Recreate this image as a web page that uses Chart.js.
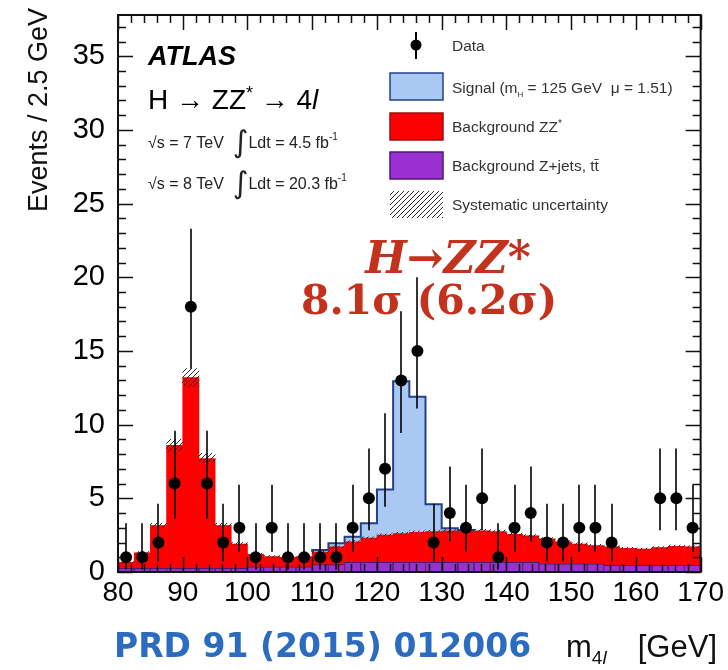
<!DOCTYPE html>
<html>
<head>
<meta charset="utf-8">
<script src="https://cdn.jsdelivr.net/npm/chart.js@4.4.1/dist/chart.umd.min.js"></script>
<style>
  html, body { margin: 0; padding: 0; background: #fff; }
</style>
</head>
<body>
<canvas id="massChart" width="728" height="670"></canvas>
<script>
// m4l bin centres [GeV], 2.5 GeV bins from 80 to 170
const massBins = [81.25, 83.75, 86.25, 88.75, 91.25, 93.75, 96.25, 98.75, 101.25, 103.75,
  106.25, 108.75, 111.25, 113.75, 116.25, 118.75, 121.25, 123.75, 126.25, 128.75,
  131.25, 133.75, 136.25, 138.75, 141.25, 143.75, 146.25, 148.75, 151.25, 153.75,
  156.25, 158.75, 161.25, 163.75, 166.25, 168.75];
const binWidth = 2.5;

// observed events (null = empty bin, not drawn)
const dataEvents = [1, 1, 2, 6, 18, 6, 2, 3, 1, 3, 1, 1, 1, 1, 3, 5, 7, 13, 15, 2,
  4, 3, 5, 1, 3, 4, 2, 2, 3, 3, 2, null, null, 5, 5, 3];
const errLow = [0.17, 0.17, 0.71, 3.62, 13.8, 3.62, 0.71, 1.37, 0.17, 1.37, 0.17, 0.17, 0.17, 0.17, 1.37, 2.84, 4.42, 9.43, 11.1, 0.71,
  2.09, 1.37, 2.84, 0.17, 1.37, 2.09, 0.71, 0.71, 1.37, 1.37, 0.71, null, null, 2.84, 2.84, 1.37];
const errHigh = [3.3, 3.3, 4.64, 9.58, 23.3, 9.58, 4.64, 5.92, 3.3, 5.92, 3.3, 3.3, 3.3, 3.3, 5.92, 8.38, 10.77, 17.7, 20.0, 4.64,
  7.16, 5.92, 8.38, 3.3, 5.92, 7.16, 4.64, 4.64, 5.92, 5.92, 4.64, null, null, 8.38, 8.38, 5.92];

// stacked expectations
const bkgZjets = [0.25, 0.25, 0.25, 0.25, 0.25, 0.25, 0.25, 0.25, 0.35, 0.35, 0.35, 0.35, 0.5, 0.5, 0.65, 0.65, 0.65, 0.65, 0.65, 0.65,
  0.65, 0.65, 0.65, 0.65, 0.65, 0.65, 0.55, 0.55, 0.55, 0.55, 0.45, 0.45, 0.45, 0.45, 0.45, 0.45];
const bkgZZ = [0.4, 1.05, 2.9, 8.35, 12.95, 7.45, 2.9, 1.65, 0.85, 0.7, 0.65, 0.7, 0.85, 1.2, 1.4, 1.65, 1.85, 1.95, 2.05, 2.1,
  2.15, 2.15, 2.15, 2.1, 1.9, 1.8, 1.7, 1.5, 1.35, 1.25, 1.25, 1.15, 1.1, 1.2, 1.3, 1.25];
const signal = [0, 0, 0, 0, 0, 0, 0, 0, 0, 0, 0, 0, 0.15, 0.25, 0.35, 1.0, 3.1, 10.35, 9.2, 1.85,
  0.17, 0.05, 0, 0, 0, 0, 0, 0, 0, 0, 0, 0, 0, 0, 0, 0];
const systErr = [0.05, 0.08, 0.15, 0.4, 0.6, 0.35, 0.15, 0.1, 0.07, 0.06, 0.06, 0.06, 0.07, 0.08, 0.08, 0.09, 0.09, 0.1, 0.1, 0.1,
  0.1, 0.1, 0.1, 0.1, 0.09, 0.09, 0.08, 0.08, 0.08, 0.07, 0.07, 0.07, 0.07, 0.07, 0.07, 0.07];

const xTicks = [80, 90, 100, 110, 120, 130, 140, 150, 160, 170];
const yTicks = [0, 5, 10, 15, 20, 25, 30, 35];

const FONT = '"Liberation Sans", Arial, sans-serif';
const colZjets = '#9a30d2', colZZ = '#ff0000', colSig = '#a9c9f3', colSigLine = '#22408a';

function hatchPattern(ctx) {
    const p = document.createElement('canvas');
    p.width = 5; p.height = 5;
    const g = p.getContext('2d');
    g.strokeStyle = '#2a2a2a';
    g.lineWidth = 1;
    g.beginPath();
    g.moveTo(0, 5); g.lineTo(5, 0);
    g.moveTo(-1, 1); g.lineTo(1, -1);
    g.moveTo(4, 6); g.lineTo(6, 4);
    g.stroke();
    return ctx.createPattern(p, 'repeat');
}

const canvas = document.getElementById('massChart');
const hatch = hatchPattern(canvas.getContext('2d'));

const bkgTop = massBins.map((m, i) => bkgZjets[i] + bkgZZ[i]);

// outline of the signal on top of the stack
const sigOutline = [];
massBins.forEach((m, i) => {
    if (signal[i] <= 0) return;
    const lo = m - binWidth / 2, hi = m + binWidth / 2;
    if (!sigOutline.length) sigOutline.push({x: lo, y: bkgTop[i]});
    sigOutline.push({x: lo, y: bkgTop[i] + signal[i]});
    sigOutline.push({x: hi, y: bkgTop[i] + signal[i]});
    if (!(signal[i + 1] > 0)) sigOutline.push({x: hi, y: bkgTop[i]});
});

const errorBars = {
    id: 'errorBars',
    beforeDatasetDraw(chart, args) {
        if (chart.data.datasets[args.index].label !== 'Data') return;
        const {ctx, scales: {x, y}} = chart;
        ctx.save();
        ctx.strokeStyle = 'rgba(0,0,0,0.8)';
        ctx.lineWidth = 2;
        massBins.forEach((m, i) => {
            if (dataEvents[i] === null) return;
            const px = Math.round(x.getPixelForValue(m));
            ctx.beginPath();
            ctx.moveTo(px, y.getPixelForValue(errLow[i]));
            ctx.lineTo(px, y.getPixelForValue(errHigh[i]));
            ctx.stroke();
        });
        ctx.restore();
    }
};

function textRuns(ctx, x, y, runs) {
    // runs: [text, font, dy]
    runs.forEach(([t, f, dy]) => {
        ctx.font = f;
        ctx.fillText(t, x, y + (dy || 0));
        x += ctx.measureText(t).width;
    });
    return x;
}

const decor = {
    id: 'decor',
    afterDraw(chart) {
        const {ctx, chartArea: a, scales: {x, y}} = chart;
        ctx.save();

        // axis ticks inside the frame
        ctx.strokeStyle = '#111';
        ctx.lineWidth = 1.5;
        ctx.beginPath();
        for (let v = 0; v <= 37; v++) {
            const py = Math.round(y.getPixelForValue(v)) + 0.5;
            const len = v % 5 === 0 ? 15 : 8;
            ctx.moveTo(a.left, py); ctx.lineTo(a.left + len, py);
            ctx.moveTo(a.right, py); ctx.lineTo(a.right - len, py);
        }
        for (let m = 80; m <= 170; m += 2) {
            const px = Math.round(x.getPixelForValue(m)) + 0.5;
            const len = m % 10 === 0 ? 15 : 8;
            ctx.moveTo(px, a.top); ctx.lineTo(px, a.top + len);
            ctx.moveTo(px, a.bottom); ctx.lineTo(px, a.bottom - len);
        }
        ctx.stroke();

        ctx.lineWidth = 2;
        ctx.strokeRect(a.left, a.top, a.right - a.left, a.bottom - a.top);

        // y axis title
        ctx.fillStyle = '#111';
        ctx.save();
        ctx.translate(47, 8);
        ctx.rotate(-Math.PI / 2);
        ctx.textAlign = 'right';
        ctx.textBaseline = 'alphabetic';
        ctx.font = '27px ' + FONT;
        ctx.fillText('Events / 2.5 GeV', 0, 0);
        ctx.restore();

        // x axis title and reference
        ctx.textAlign = 'left';
        ctx.textBaseline = 'alphabetic';
        ctx.fillStyle = '#2b6cc0';
        ctx.font = 'bold 33px "DejaVu Sans", sans-serif';
        ctx.fillText('PRD 91 (2015) 012006', 114, 657);
        ctx.fillStyle = '#111';
        textRuns(ctx, 566, 657, [
            ['m', '31px ' + FONT],
            ['4', '19px ' + FONT, 7],
            ['l', 'italic 19px ' + FONT, 7]
        ]);
        ctx.textAlign = 'right';
        ctx.font = '31px ' + FONT;
        ctx.fillText('[GeV]', 717, 657);
        ctx.textAlign = 'left';

        // ATLAS label block
        const lx = a.left + 30;
        ctx.fillStyle = '#000';
        ctx.font = 'italic bold 27px ' + FONT;
        ctx.fillText('ATLAS', lx, 65);
        textRuns(ctx, lx, 109, [
            ['H \u2192 ZZ', '28px ' + FONT],
            ['*', '18px ' + FONT, -10],
            [' \u2192 4', '28px ' + FONT],
            ['l', 'italic 28px ' + FONT]
        ]);
        ctx.fillStyle = '#222';
        [[148, '7 TeV', '4.5'], [189, '8 TeV', '20.3']].forEach(([by, e, lumi]) => {
            textRuns(ctx, lx, by, [
                ['\u221As = ' + e + '  ', '16px ' + FONT],
                ['\u222B', '30px "DejaVu Sans", sans-serif', 4],
                ['Ldt = ' + lumi + ' fb', '16px ' + FONT],
                ['-1', '10px ' + FONT, -8]
            ]);
        });

        // legend
        ctx.fillStyle = '#000';
        ctx.strokeStyle = '#000';
        ctx.lineWidth = 2;
        ctx.beginPath(); ctx.moveTo(416, 32); ctx.lineTo(416, 59); ctx.stroke();
        ctx.beginPath(); ctx.arc(416, 45, 5.5, 0, Math.PI * 2); ctx.fill();
        const box = (by, fill, edge) => {
            ctx.fillStyle = fill;
            ctx.fillRect(390, by, 53, 27);
            if (edge) {
                ctx.strokeStyle = edge; ctx.lineWidth = 1.5;
                ctx.strokeRect(390, by, 53, 27);
            }
        };
        box(73, colSig, colSigLine);
        box(113, colZZ, '#9a1010');
        box(152, colZjets, '#4b1777');
        box(191, hatch, null);
        ctx.fillStyle = '#333';
        const tx = 452, lf = '15.5px ' + FONT;
        ctx.font = lf;
        ctx.fillText('Data', tx, 51);
        textRuns(ctx, tx, 93, [
            ['Signal (m', lf],
            ['H', '8px ' + FONT, 4],
            [' = 125 GeV  \u03BC = 1.51)', lf]
        ]);
        textRuns(ctx, tx, 132, [['Background ZZ', lf], ['*', '10px ' + FONT, -5]]);
        ctx.font = lf;
        ctx.fillText('Background Z+jets, tt\u0304', tx, 171);
        ctx.fillText('Systematic uncertainty', tx, 210);

        // significance annotation
        ctx.fillStyle = '#c4321d';
        ctx.textAlign = 'center';
        ctx.font = 'italic bold 44px "DejaVu Serif", serif';
        ctx.fillText('H\u2192ZZ*', 448, 273);
        ctx.font = 'bold 41px "DejaVu Serif", serif';
        ctx.fillText('8.1\u03C3 (6.2\u03C3)', 429, 314);

        ctx.restore();
    }
};

const toPoints = arr => massBins.map((m, i) => ({x: m, y: arr[i]}));

new Chart(canvas, {
    type: 'bar',
    data: {
        datasets: [
            {
                label: 'Background Z+jets, tt',
                data: toPoints(bkgZjets),
                backgroundColor: colZjets,
                borderColor: '#4b1777',
                borderWidth: 1,
                stack: 'mc',
                order: 3
            },
            {
                label: 'Background ZZ*',
                data: toPoints(bkgZZ),
                backgroundColor: colZZ,
                borderWidth: 0,
                stack: 'mc',
                order: 4
            },
            {
                label: 'Signal',
                data: toPoints(signal),
                backgroundColor: colSig,
                borderWidth: 0,
                stack: 'mc',
                order: 5
            },
            {
                label: 'Systematic uncertainty',
                data: massBins.map((m, i) => ({x: m, y: [bkgTop[i] - systErr[i], bkgTop[i] + systErr[i]]})),
                backgroundColor: hatch,
                borderWidth: 0,
                stack: 'syst',
                order: 2
            },
            {
                type: 'line',
                label: 'Signal outline',
                data: sigOutline,
                borderColor: colSigLine,
                borderWidth: 2,
                pointRadius: 0,
                fill: false,
                tension: 0,
                stack: 'outline',
                order: 1
            },
            {
                type: 'line',
                label: 'Data',
                data: toPoints(dataEvents),
                showLine: false,
                pointRadius: 6,
                pointBackgroundColor: '#000',
                pointBorderWidth: 0,
                stack: 'data',
                order: 0
            }
        ]
    },
    options: {
        responsive: false,
        animation: false,
        devicePixelRatio: 1,
        layout: { padding: { top: 15, right: 25, bottom: 36, left: 0 } },
        datasets: { bar: { barPercentage: 1, categoryPercentage: 1, grouped: false } },
        plugins: { legend: { display: false }, tooltip: { enabled: false } },
        scales: {
            x: {
                type: 'linear',
                min: 80,
                max: 170,
                offset: false,
                stacked: true,
                grid: { display: false, drawTicks: false },
                border: { display: false },
                afterBuildTicks: s => { s.ticks = xTicks.map(v => ({value: v})); },
                afterFit: s => { s.height = 62; },
                ticks: { color: '#000', padding: 4, maxRotation: 0, autoSkip: false, font: { family: FONT, size: 28 } }
            },
            y: {
                min: 0,
                max: 37.8,
                stacked: true,
                grid: { display: false, drawTicks: false },
                border: { display: false },
                afterBuildTicks: s => { s.ticks = yTicks.map(v => ({value: v})); },
                afterFit: s => { s.width = 118; s.paddingTop = 0; s.paddingBottom = 0; },
                ticks: { color: '#000', padding: 13, font: { family: FONT, size: 29 } }
            }
        }
    },
    plugins: [errorBars, decor]
});
</script>
</body>
</html>
